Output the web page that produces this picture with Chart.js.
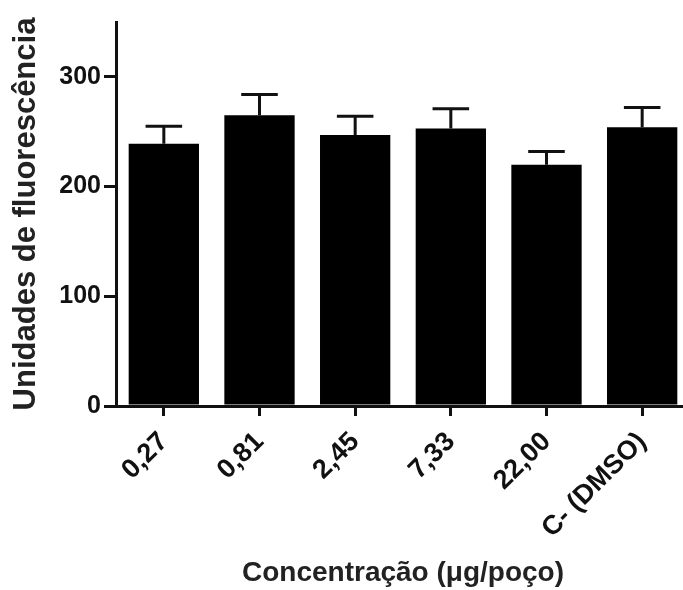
<!DOCTYPE html>
<html>
<head>
<meta charset="utf-8">
<script src="https://cdn.jsdelivr.net/npm/chart.js@4.4.1/dist/chart.umd.min.js"></script>
<style>
  html, body { margin: 0; padding: 0; background: #fff; overflow: hidden; }
  #wrap { width: 690px; height: 590px; }
</style>
</head>
<body>
<div id="wrap"><canvas id="chart" width="690" height="590"></canvas></div>
<script>
/* Data */
const categories = ['0,27', '0,81', '2,45', '7,33', '22,00', 'C- (DMSO)'];
const means = [239, 265, 247, 253, 220, 254];
const errors = [16, 19, 17, 18, 12, 18];
const yTicks = [0, 100, 200, 300];

const FONT = '"Liberation Sans", Arial, Helvetica, sans-serif';
const INK = '#111';

// draws the upper error bar of each bar through the chart's own scales
const errorBars = {
  id: 'errorBars',
  afterDatasetsDraw(chart) {
    const { ctx, scales: { y } } = chart;
    const meta = chart.getDatasetMeta(0);
    ctx.save();
    ctx.strokeStyle = INK;
    ctx.lineWidth = 3;
    meta.data.forEach((bar, i) => {
      const top = y.getPixelForValue(means[i] + errors[i]);
      const capHalf = bar.width * 0.26;
      ctx.beginPath();
      ctx.moveTo(bar.x, bar.y);
      ctx.lineTo(bar.x, top);
      ctx.moveTo(bar.x - capHalf, top);
      ctx.lineTo(bar.x + capHalf, top);
      ctx.stroke();
    });
    ctx.restore();
  }
};

new Chart(document.getElementById('chart'), {
  type: 'bar',
  data: {
    labels: categories,
    datasets: [{ data: means, backgroundColor: '#000', borderWidth: 0, barPercentage: 0.735, categoryPercentage: 1 }]
  },
  options: {
    responsive: false,
    animation: false,
    layout: { padding: { top: 22, left: 0, right: 0, bottom: 0 } },
    plugins: { legend: { display: false }, tooltip: { enabled: false } },
    scales: {
      x: {
        afterFit: s => { s.height = 184; },
        grid: { display: true, drawOnChartArea: false, offset: false, tickLength: 10, lineWidth: 3, color: INK },
        border: { display: true, width: 3, color: INK },
        ticks: { color: INK, font: { family: FONT, size: 27, weight: 'bold' }, minRotation: 45, maxRotation: 45, padding: 10 },
        title: { display: true, text: 'Concentração (μg/poço)', color: '#222', font: { family: FONT, size: 28, weight: 'bold' }, padding: { top: 0, bottom: 0 } }
      },
      y: {
        min: 0, max: 350, bounds: 'data',
        afterFit: s => { s.width = 116; },
        afterBuildTicks: s => { s.ticks = yTicks.map(v => ({ value: v })); },
        grid: { display: true, drawOnChartArea: false, tickLength: 12, lineWidth: 3, color: INK },
        border: { display: true, width: 3, color: INK },
        ticks: { color: INK, font: { family: FONT, size: 25, weight: 'bold' }, padding: 3 },
        title: { display: true, text: 'Unidades de fluorescência', color: '#222', font: { family: FONT, size: 31, weight: 'bold' }, padding: { top: 8, bottom: 0 } }
      }
    }
  },
  plugins: [errorBars]
});
</script>
</body>
</html>
